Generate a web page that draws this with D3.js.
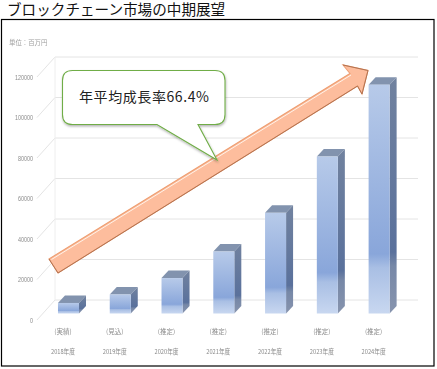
<!DOCTYPE html>
<html><head><meta charset="utf-8">
<script src="https://d3js.org/d3.v7.min.js"></script>
<style>html,body{margin:0;padding:0;background:#fff}svg{display:block}</style></head>
<body><svg id="c" width="437" height="369"></svg>
<script>
const years = ["2018年度","2019年度","2020年度","2021年度","2022年度","2023年度","2024年度"];
const kinds = ["(実績)","(見込)","(推定)","(推定)","(推定)","(推定)","(推定)"];
const values = [5200,9400,17500,30600,49700,77500,113000];
const yTicks = [0,20000,40000,60000,80000,100000,120000];
const title = "ブロックチェーン市場の中期展望";
const unitLabel = "単位：百万円";
const callout = "年平均成長率66.4%";

const cjk = '"Noto Sans CJK JP","Noto Sans",sans-serif';
const svg = d3.select("#c");
const defs = svg.append("defs");

const wallDx = 18, wallDy = -20, barDx = 7, barDy = -7.5, barLift = -6.5;
const y = d3.scaleLinear().domain([0,120000]).range([320,77]);
const x = d3.scaleBand().domain(years).range([42.6,405]).paddingInner(0.594).paddingOuter(0.297);

function grad(id, stops){
  const g = defs.append("linearGradient").attr("id",id).attr("x1",0).attr("x2",0).attr("y1",0).attr("y2",1);
  stops.forEach(s=>g.append("stop").attr("offset",s[0]).attr("stop-color",s[1]));
}
grad("front",[[0,"#b7cae9"],[0.74,"#89a6da"],[0.8,"#a9bfe4"],[1,"#c8d7f0"]]);
grad("side",[[0,"#71829f"],[0.74,"#5a719c"],[0.8,"#7788a7"],[1,"#8794ae"]]);
const soft = defs.append("filter").attr("id","soft").attr("x","-5%").attr("y","-20%").attr("width","110%").attr("height","140%");
soft.append("feGaussianBlur").attr("stdDeviation",0.4);
const shadow = defs.append("filter").attr("id","shadow").attr("x","-10%").attr("y","-10%").attr("width","120%").attr("height","130%");
shadow.append("feDropShadow").attr("dx",0.5).attr("dy",1.5).attr("stdDeviation",1.2).attr("flood-color","#000").attr("flood-opacity",0.3);

// frame
svg.append("rect").attr("x",1.5).attr("y",19.5).attr("width",432.5).attr("height",346.5)
  .attr("fill","#fff").attr("stroke","#000").attr("stroke-width",1.2);

svg.append("text").attr("x",7).attr("y",14.5).attr("font-family",cjk).attr("font-size",14.6)
  .attr("fill","#111").text(title);

// gridlines (back wall + floor diagonal)
const grid = svg.append("g").attr("fill","none").attr("stroke","#e4e4e4").attr("stroke-width",1);
yTicks.forEach(t=>{
  grid.append("path").attr("d",d3.line()([[37,y(t)],[37+wallDx,y(t)+wallDy],[418,y(t)+wallDy]]));
});
grid.append("line").attr("x1",37+wallDx).attr("x2",37+wallDx).attr("y1",y(0)+wallDy).attr("y2",y(120000)+wallDy).attr("stroke","#eeeeee");

// y axis labels
const axis = svg.append("g").attr("transform","translate(33,0)")
  .call(d3.axisLeft(y).tickValues(yTicks).tickSize(0).tickPadding(0).tickFormat(d3.format("d")));
axis.select(".domain").remove();
axis.selectAll("text").attr("font-family",'"Liberation Sans",sans-serif').attr("font-size",7).attr("fill","#8a8a8a")
  .attr("filter","url(#soft)").each(function(d){
    const n = String(d).length;
    d3.select(this).attr("textLength",n*3).attr("lengthAdjust","spacingAndGlyphs");
  });

svg.append("text").attr("x",9).attr("y",45).attr("font-family",cjk).attr("font-size",6.4)
  .attr("fill","#a0a0a0").attr("filter","url(#soft)").text(unitLabel);

// bars
const base = y(0)+barLift;
const bars = svg.append("g").selectAll("g").data(years).join("g");
bars.each(function(yr,i){
  const g = d3.select(this), x0 = x(yr), w = x.bandwidth(), x1 = x0+w;
  const top = y(values[i]) + barLift;
  g.append("path").attr("fill","#8293ae")
    .attr("d",d3.line()([[x0,top],[x0+barDx,top+barDy],[x1+barDx,top+barDy],[x1,top]])+"Z");
  g.append("path").attr("fill","url(#side)")
    .attr("d",d3.line()([[x1,top],[x1+barDx,top+barDy],[x1+barDx,base+barDy],[x1,base]])+"Z");
  g.append("rect").attr("x",x0).attr("y",top).attr("width",w).attr("height",base-top).attr("fill","url(#front)");
});

// category labels
const cats = svg.append("g").attr("font-family",cjk).attr("fill","#8a8a8a").attr("text-anchor","middle").attr("filter","url(#soft)");
years.forEach((yr,i)=>{
  const cx = x(yr)+x.bandwidth()/2-5.5;
  cats.append("text").attr("x",cx).attr("y",333.5).attr("font-size",6.5).text(kinds[i]);
  cats.append("text").attr("x",cx).attr("y",354).attr("font-size",6.5).attr("textLength",24).attr("lengthAdjust","spacingAndGlyphs").text(yr);
});

// growth arrow
const arrowPts = [[49,259],[350,73.5],[343,65],[368,70.5],[362,94],[357.5,86],[58,273]];
svg.append("path").attr("d",d3.line()(arrowPts)+"Z").attr("fill","#fdbd9d")
  .attr("stroke","#ee9f73").attr("stroke-width",1.1).attr("stroke-linejoin","miter");
svg.append("path").attr("d",d3.line()([[51.5,259.5],[351,75]])).attr("stroke","#fff3e9").attr("stroke-width",1).attr("fill","none");
svg.append("path").attr("d",d3.line()([[49,259],[58,273],[357.5,86],[362,94],[368,70.5],[343,65]])).attr("stroke","#b27352").attr("stroke-width",1).attr("fill","none").attr("stroke-linejoin","miter");

// callout
const L=62.5,R=225,T=70.5,B=124.5,r=10;
const calloutPath = `M${L+r},${T}H${R-r}Q${R},${T} ${R},${T+r}V${B-r}Q${R},${B} ${R-r},${B}H198L217,160L157,${B}H${L+r}Q${L},${B} ${L},${B-r}V${T+r}Q${L},${T} ${L+r},${T}Z`;
svg.append("path").attr("d",calloutPath).attr("fill","#fff").attr("stroke","#70ad47").attr("stroke-width",1.1).attr("filter","url(#shadow)");
svg.append("text").attr("x",144).attr("y",102).attr("text-anchor","middle").attr("font-family",cjk)
  .attr("font-size",14).attr("fill","#222").attr("textLength",130).attr("lengthAdjust","spacing").text(callout);
</script></body></html>
